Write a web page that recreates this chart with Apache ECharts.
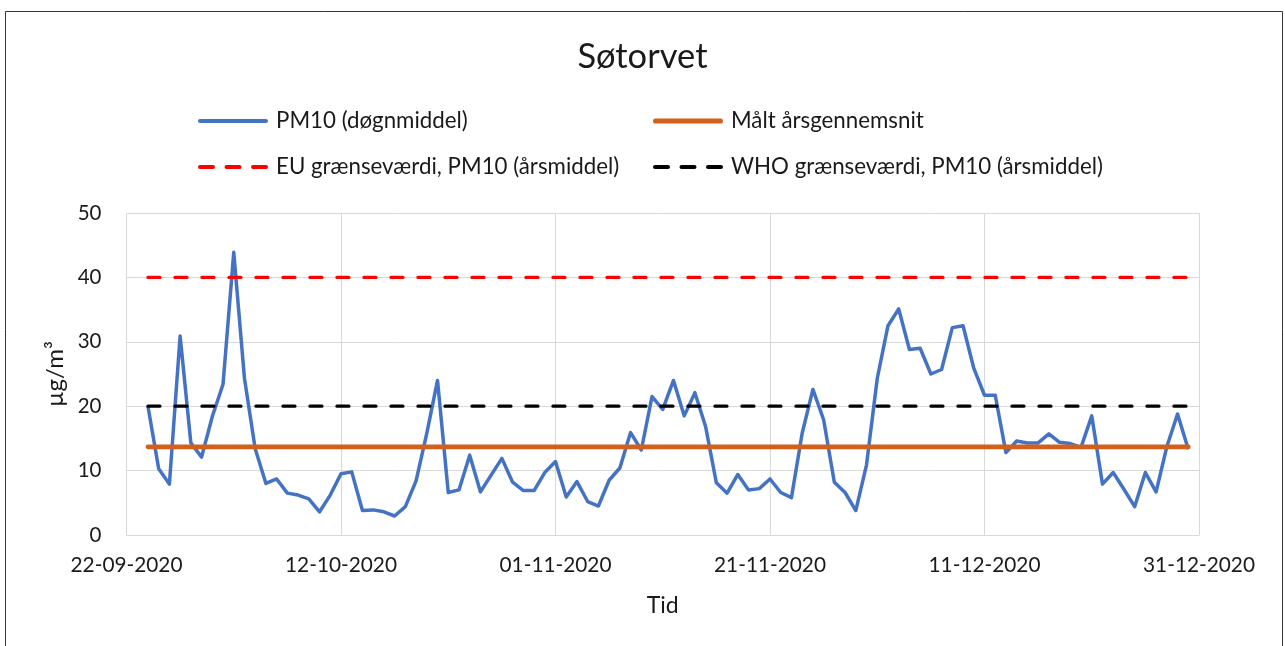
<!DOCTYPE html>
<html><head><meta charset="utf-8">
<script src="https://cdn.jsdelivr.net/npm/echarts@6/dist/echarts.min.js"></script>
<style>html,body{margin:0;padding:0;background:#fff}#c{width:1285px;height:646px}</style>
</head><body><div id="c"></div><script>
const chartTitle = 'Søtorvet';
const xTickLabels = ['22-09-2020','12-10-2020','01-11-2020','21-11-2020','11-12-2020','31-12-2020'];
const tickStepDays = 20;
const firstDay = 2; // first measurement = 24-09-2020 (days after 22-09-2020)
const pm10 = [
  20.0, 10.3, 7.9, 30.9, 14.3, 12.1, 18.4, 23.4, 43.9, 24.3,
  13.4, 8.0, 8.7, 6.5, 6.2, 5.6, 3.6, 6.2, 9.5, 9.8,
  3.8, 3.9, 3.6, 2.95, 4.4, 8.4, 15.8, 24.0, 6.6, 7.0,
  12.4, 6.7, 9.3, 11.9, 8.2, 6.9, 6.9, 9.7, 11.4, 5.9,
  8.3, 5.2, 4.5, 8.5, 10.4, 15.9, 13.2, 21.5, 19.5, 24.0,
  18.5, 22.1, 16.8, 8.1, 6.5, 9.4, 7.0, 7.2, 8.7, 6.6,
  5.8, 15.8, 22.6, 17.9, 8.2, 6.6, 3.8, 10.9, 24.3, 32.5,
  35.1, 28.8, 29.0, 25.0, 25.7, 32.2, 32.5, 25.9, 21.7, 21.7,
  12.8, 14.6, 14.3, 14.3, 15.7, 14.4, 14.2, 13.6, 18.5, 7.9,
  9.7, 7.1, 4.4, 9.7, 6.7, 13.7, 18.8, 13.3
];
const annualMean = 13.7;
const euLimit = 40;
const whoLimit = 20;
const seriesNames = ['PM10 (døgnmiddel)','Målt årsgennemsnit','EU grænseværdi, PM10 (årsmiddel)','WHO grænseværdi, PM10 (årsmiddel)'];

const FONT = 'Lato';
const TXT = '#1a1a1a';
const BLUE = '#4472C4', ORANGE = '#D2601A', RED = '#FF0000', BLACK = '#000000';
const lastDay = firstDay + pm10.length - 1;
const pm10Data = pm10.map((v, i) => [firstDay + i, v]);
const flat = v => [[firstDay, v], [lastDay, v]];

const dashIcon = 'path://M2,0h13a2,2 0 0 1 0,4h-13a2,2 0 0 1 0,-4zM28.5,0h13a2,2 0 0 1 0,4h-13a2,2 0 0 1 0,-4zM55,0h13a2,2 0 0 1 0,4h-13a2,2 0 0 1 0,-4z';
const solidIcon = 'path://M2,0h66a2,2 0 0 1 0,4h-66a2,2 0 0 1 0,-4z';
function mkLegend(name, left, top, icon, h) {
  return {data: [{name: name, icon: icon}], left: left, top: top, padding: 0,
    itemWidth: 70, itemHeight: h, symbolKeepAspect: false, selectedMode: false,
    itemStyle: {borderWidth: 0},
    textStyle: {fontFamily: FONT, fontSize: 22.3, color: TXT, padding: [0,0,0,3]}};
}

const chart = echarts.init(document.getElementById('c'), null, {renderer: 'canvas'});
chart.setOption({
  animation: false,
  backgroundColor: '#fff',
  title: {text: chartTitle, left: 'center', top: 34, textStyle: {fontFamily: FONT, fontSize: 34.5, fontWeight: 'normal', color: TXT}},
  graphic: [{type: 'rect', shape: {x: 5.5, y: 11.5, width: 1277, height: 700}, style: {fill: 'none', stroke: '#333', lineWidth: 1}, silent: true}],
  legend: [
    mkLegend(seriesNames[0], 198, 110, solidIcon, 4),
    mkLegend(seriesNames[1], 653, 110, solidIcon, 5),
    mkLegend(seriesNames[2], 198, 156, dashIcon, 4),
    mkLegend(seriesNames[3], 653, 156, dashIcon, 4)
  ],
  grid: {left: 126.5, right: 86, top: 213, bottom: 111, containLabel: false},
  xAxis: {
    type: 'value', min: 0, max: tickStepDays * (xTickLabels.length - 1), interval: tickStepDays,
    name: 'Tid', nameLocation: 'middle', nameGap: 59,
    nameTextStyle: {fontFamily: FONT, fontSize: 23, color: TXT},
    axisLine: {show: true, lineStyle: {color: '#d9d9d9', width: 1}},
    axisTick: {show: false},
    splitLine: {show: true, lineStyle: {color: '#d9d9d9', width: 1}},
    axisLabel: {fontFamily: FONT, fontSize: 20.8, color: TXT, margin: 20,
      formatter: v => xTickLabels[Math.round(v / tickStepDays)] || ''}
  },
  yAxis: {
    type: 'value', min: 0, max: 50, interval: 10,
    name: 'µg/m³', nameLocation: 'middle', nameGap: 50, nameRotate: 90,
    nameTextStyle: {fontFamily: FONT, fontSize: 24, color: TXT},
    axisLine: {show: false}, axisTick: {show: false},
    splitLine: {show: true, lineStyle: {color: '#d9d9d9', width: 1}},
    axisLabel: {fontFamily: FONT, fontSize: 20.5, color: TXT, margin: 25}
  },
  series: [
    {name: seriesNames[0], type: 'line', data: pm10Data, showSymbol: false, symbol: 'none',
      lineStyle: {color: BLUE, width: 3.5, join: 'round'}, itemStyle: {color: BLUE}},
    {name: seriesNames[1], type: 'line', data: flat(annualMean), showSymbol: false, symbol: 'none',
      lineStyle: {color: ORANGE, width: 4.75, cap: 'round'}, itemStyle: {color: ORANGE}},
    {name: seriesNames[2], type: 'line', data: flat(euLimit), showSymbol: false, symbol: 'none',
      lineStyle: {color: RED, width: 3.25, type: [12, 15], cap: 'round'}, itemStyle: {color: RED}},
    {name: seriesNames[3], type: 'line', data: flat(whoLimit), showSymbol: false, symbol: 'none',
      lineStyle: {color: BLACK, width: 3.25, type: [12, 15], cap: 'round'}, itemStyle: {color: BLACK}}
  ]
});
</script></body></html>
